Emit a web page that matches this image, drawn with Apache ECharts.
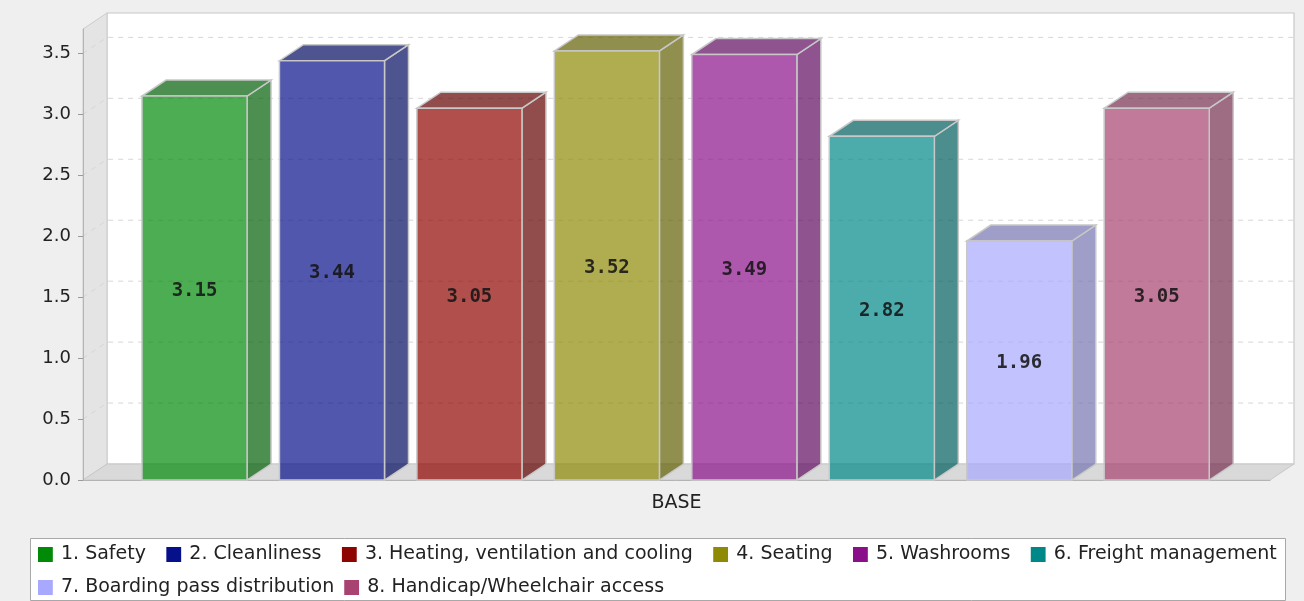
<!DOCTYPE html>
<html>
<head>
<meta charset="utf-8">
<title>BASE scores</title>
<script src="https://cdn.jsdelivr.net/npm/echarts@6/dist/echarts.min.js"></script>
<style>
  html, body { margin: 0; padding: 0; background: #efefef; }
  #chart { width: 1304px; height: 601px; }
</style>
</head>
<body>
<div id="chart"></div>
<script>
// Survey scores for the single "BASE" group
const categories = ['BASE'];
const seriesNames = [
  '1. Safety',
  '2. Cleanliness',
  '3. Heating, ventilation and cooling',
  '4. Seating',
  '5. Washrooms',
  '6. Freight management',
  '7. Boarding pass distribution',
  '8. Handicap/Wheelchair access'
];
const seriesValues = [3.15, 3.44, 3.05, 3.52, 3.49, 2.82, 1.96, 3.05];
const yTickValues = [0.0, 0.5, 1.0, 1.5, 2.0, 2.5, 3.0, 3.5];

// Base colours of each series (legend swatches); bars use them translucent
const seriesColors = [
  [0, 138, 8],
  [5, 16, 138],
  [142, 4, 0],
  [142, 138, 5],
  [138, 16, 138],
  [0, 135, 135],
  [168, 168, 255],
  [168, 66, 112]
];

// 3D look: depth offset of the back plane, bar layout inside the category band
const DEPTH_X = 24;
const DEPTH_Y = -16;
const BAR_ALPHA = 0.7;
const FIRST_OFFSET = 0.0497;
const BAR_STEP = 0.1158;
const BAR_WIDTH = 0.0885;

const rgba = (c, a) => `rgba(${c[0]},${c[1]},${c[2]},${a})`;
const darker = c => c.map(v => Math.floor(v * 0.7));
const hex = c => '#' + c.map(v => v.toString(16).padStart(2, '0')).join('');

// Square swatch plus a little transparent room on its right before the text
const SWATCH_ICON = 'path://M0,0H14V14H0Z M17,14L17.01,14L17.01,13.99Z';

const chart = echarts.init(document.getElementById('chart'), null, { renderer: 'canvas' });

// Back wall, left wall, floor and the dashed grid lines on the back wall
function renderWalls(params, api) {
  const cs = params.coordSys;
  const x0 = cs.x, x1 = cs.x + cs.width;
  const y0 = cs.y, y1 = cs.y + cs.height;
  const children = [];
  children.push({
    type: 'rect',
    shape: { x: x0 + DEPTH_X, y: y0 + DEPTH_Y, width: cs.width, height: cs.height },
    style: { fill: '#ffffff', stroke: '#c8c8c8', lineWidth: 1.2 }
  });
  children.push({
    type: 'polygon',
    shape: { points: [[x0, y0], [x0 + DEPTH_X, y0 + DEPTH_Y], [x0 + DEPTH_X, y1 + DEPTH_Y], [x0, y1]] },
    style: { fill: '#e4e4e4', stroke: '#cccccc', lineWidth: 1 }
  });
  children.push({
    type: 'polygon',
    shape: { points: [[x0, y1], [x1, y1], [x1 + DEPTH_X, y1 + DEPTH_Y], [x0 + DEPTH_X, y1 + DEPTH_Y]] },
    style: { fill: '#d9d9d9', stroke: '#c8c8c8', lineWidth: 1 }
  });
  yTickValues.forEach(v => {
    if (v <= 0) return;
    const y = api.coord([0, v])[1];
    children.push({
      type: 'polyline',
      shape: { points: [[x0, y], [x0 + DEPTH_X, y + DEPTH_Y], [x1 + DEPTH_X, y + DEPTH_Y]] },
      style: { fill: null, stroke: '#d6d6d6', lineWidth: 1, lineDash: [5, 5] }
    });
  });
  return { type: 'group', children };
}

// One 3D bar: front face, right side face, top face and the value label
function makeBarRenderer(idx) {
  return function (params, api) {
    const value = api.value(1);
    const band = api.size([1, 0])[0];
    const base = api.coord([api.value(0), 0]);
    const top = api.coord([api.value(0), value]);
    const bandStart = base[0] - band / 2;
    const left = bandStart + band * (FIRST_OFFSET + idx * BAR_STEP);
    const w = band * BAR_WIDTH;
    const right = left + w;
    const yTop = top[1], yBase = base[1];
    const c = seriesColors[idx];
    const dc = darker(c);
    const edge = '#c8c8c8';
    return {
      type: 'group',
      children: [
        {
          type: 'polygon',
          shape: { points: [[right, yBase], [right + DEPTH_X, yBase + DEPTH_Y], [right + DEPTH_X, yTop + DEPTH_Y], [right, yTop]] },
          style: { fill: rgba(dc, BAR_ALPHA), stroke: edge, lineWidth: 1.5 }
        },
        {
          type: 'polygon',
          shape: { points: [[left, yTop], [right, yTop], [right + DEPTH_X, yTop + DEPTH_Y], [left + DEPTH_X, yTop + DEPTH_Y]] },
          style: { fill: rgba(dc, BAR_ALPHA), stroke: edge, lineWidth: 1.5 }
        },
        {
          type: 'rect',
          shape: { x: left, y: yTop, width: w, height: yBase - yTop },
          style: { fill: rgba(c, BAR_ALPHA), stroke: edge, lineWidth: 1.5 }
        },
        {
          type: 'text',
          x: left + w / 2,
          y: (yTop + yBase) / 2 + 3,
          style: {
            text: value.toFixed(2),
            fill: 'rgba(20,20,20,0.88)',
            font: 'bold 19px "DejaVu Sans Mono", monospace',
            align: 'center',
            verticalAlign: 'middle'
          }
        }
      ]
    };
  };
}

const series = [{
  type: 'custom',
  name: 'walls',
  silent: true,
  z: 0,
  renderItem: renderWalls,
  data: [[0, 0]]
}];
seriesNames.forEach((name, i) => {
  series.push({
    type: 'custom',
    name: name,
    z: 2,
    color: hex(seriesColors[i]),
    itemStyle: { color: hex(seriesColors[i]) },
    renderItem: makeBarRenderer(i),
    data: [[0, seriesValues[i]]]
  });
});

// Legend is laid out as two rows inside one framed box
const legendBase = {
  orient: 'horizontal',
  left: 38,
  padding: 0,
  itemWidth: 18,
  itemHeight: 15,
  icon: SWATCH_ICON,
  textStyle: { color: '#222', fontSize: 19, fontFamily: 'DejaVu Sans' }
};

chart.setOption({
  backgroundColor: '#efefef',
  animation: false,
  grid: { left: 83, right: 34, top: 29, bottom: 121, containLabel: false },
  graphic: [{
    type: 'rect',
    left: 30,
    top: 538,
    z: -1,
    shape: { width: 1255, height: 62 },
    style: { fill: '#ffffff', stroke: '#a8a8a8', lineWidth: 1 }
  }],
  xAxis: {
    type: 'category',
    data: categories,
    boundaryGap: true,
    axisLine: { show: true, lineStyle: { color: '#b4b4b4', width: 1 } },
    axisTick: { show: false },
    axisLabel: { color: '#222', fontSize: 19, fontFamily: 'DejaVu Sans', margin: 14 },
    splitLine: { show: false }
  },
  yAxis: {
    type: 'value',
    min: 0,
    max: 3.7,
    interval: 0.5,
    axisLine: { show: true, lineStyle: { color: '#b4b4b4', width: 1 } },
    axisTick: { show: true, length: 5, lineStyle: { color: '#999' } },
    axisLabel: {
      color: '#222', fontSize: 18, fontFamily: 'DejaVu Sans', margin: 12,
      showMaxLabel: false,
      formatter: v => (Math.abs(v * 2 - Math.round(v * 2)) < 1e-9 ? v.toFixed(1) : '')
    },
    splitLine: { show: false }
  },
  legend: [
    Object.assign({}, legendBase, { data: seriesNames.slice(0, 6), top: 545, itemGap: 20.4 }),
    Object.assign({}, legendBase, { data: seriesNames.slice(6), top: 578, itemGap: 10 })
  ],
  series: series
});
</script>
</body>
</html>
